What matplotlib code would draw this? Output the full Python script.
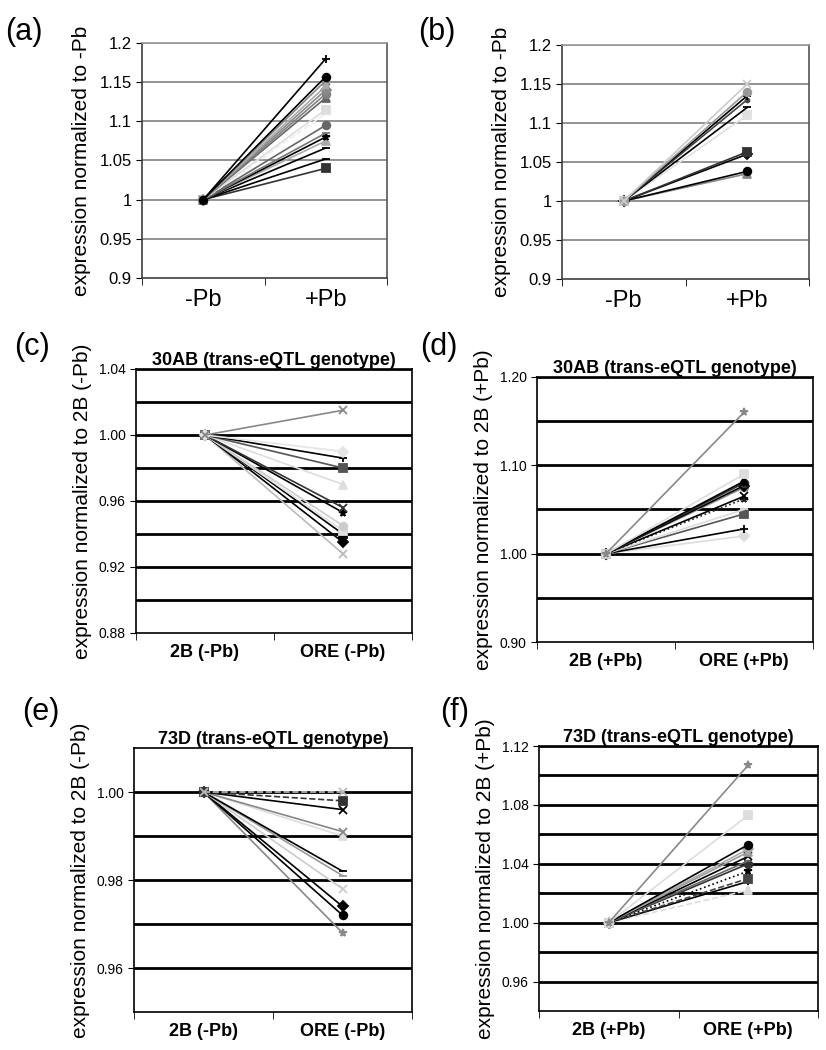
import numpy as np
import matplotlib.pyplot as plt

plt.rcParams['font.family'] = ['Liberation Sans', 'DejaVu Sans']

# data
cats_ab = ['-Pb', '+Pb']
cats_ce = ['2B (-Pb)', 'ORE (-Pb)']
cats_df = ['2B (+Pb)', 'ORE (+Pb)']

a_end = [1.180, 1.157, 1.152, 1.145, 1.140, 1.135, 1.130, 1.115, 1.110,
         1.095, 1.085, 1.080, 1.075, 1.066, 1.052, 1.040]
b_end = [1.150, 1.140, 1.135, 1.130, 1.120, 1.110, 1.063, 1.060, 1.038, 1.035]
c_end = [1.015, 0.990, 0.986, 0.980, 0.970, 0.956, 0.953, 0.945, 0.942,
         0.940, 0.935, 0.928]
d_end = [1.160, 1.090, 1.082, 1.080, 1.077, 1.075, 1.065, 1.062, 1.050,
         1.045, 1.028, 1.020]
e_end = [1.000, 0.998, 0.996, 0.991, 0.990, 0.982, 0.981, 0.978, 0.974,
         0.972, 0.968]
f_end = [1.107, 1.073, 1.053, 1.050, 1.048, 1.045, 1.042, 1.040, 1.035,
         1.030, 1.028, 1.022]

# styles per series (colour, marker, linestyle)
a_sty = [('black', '+', '-'), ('black', 'o', '-'), ('#888888', 'x', '-'),
         ('#aaaaaa', '*', '-'), ('#8a8a8a', 'D', '-'), ('#808080', 'o', '-'),
         ('#666666', '^', '-'), ('#dddddd', 's', '-'), ('#eeeeee', '', '--'),
         ('#666666', 'o', '-'), ('#777777', '_', '-'), ('black', '*', '-'),
         ('#aaaaaa', '^', '-'), ('black', '_', '-'), ('black', '_', '-'),
         ('#333333', 's', '-')]
b_sty = [('#cccccc', 'x', '-'), ('#999999', 'o', '-'), ('black', '+', '-'),
         ('#444444', '.', '-'), ('black', '_', '-'), ('#e0e0e0', 's', '-'),
         ('#333333', 's', '-'), ('black', 'D', '-'), ('black', 'o', '-'),
         ('#888888', '^', '-')]
c_sty = [('#888888', 'x', '-'), ('#e5e5e5', 'D', '-'), ('black', '+', '-'),
         ('#555555', 's', '-'), ('#dddddd', '^', '-'), ('#333333', 'x', '-'),
         ('black', '*', '-'), ('#cccccc', 'o', '-'), ('#e0e0e0', 's', '-'),
         ('black', 's', '-'), ('black', 'D', '-'), ('#bbbbbb', 'x', '-')]
d_sty = [('#888888', '*', '-'), ('#dddddd', 's', '-'), ('black', '^', '-'),
         ('#333333', 'o', '-'), ('black', 'D', '-'), ('#888888', 'o', '-'),
         ('black', 'x', '-'), ('#222222', '*', ':'), ('#dddddd', '_', '-'),
         ('#555555', 's', '-'), ('black', '+', '-'), ('#dddddd', 'D', '-')]
e_sty = [('#bbbbbb', 'x', '--'), ('#333333', 's', '--'), ('black', 'x', '-'),
         ('#888888', 'x', '-'), ('#dddddd', '^', '-'), ('black', '_', '-'),
         ('#999999', '_', '-'), ('#cccccc', 'x', '-'), ('black', 'D', '-'),
         ('black', 'o', '-'), ('#888888', '*', '-')]
f_sty = [('#888888', '*', '-'), ('#dddddd', 's', '-'), ('black', 'o', '-'),
         ('#aaaaaa', 'D', '-'), ('#999999', '^', '-'), ('black', 'x', '-'),
         ('#666666', '_', '-'), ('#333333', 'o', '-'), ('black', '*', ':'),
         ('#444444', 's', '--'), ('black', '|', '-'), ('#dddddd', '^', '--')]

W, H = 826, 1050
fig = plt.figure(figsize=(W / 100, H / 100), dpi=100)


def box(x0, y0, x1, y1):
    return [x0 / W, 1 - y1 / H, (x1 - x0) / W, (y1 - y0) / H]


def draw(ax, ends, styles, cats, ylim, major, minor, fmt, excel_old):
    # drawn last-to-first so the first series sits on top at the start point
    for v, (col, mk, ls) in list(zip(ends, styles))[::-1]:
        ax.plot([0, 1], [1.0, v], color=col, lw=1.2, ls=ls,
                marker=mk if mk else None, ms=5.5, mew=1.3, zorder=3)
    ax.set_xlim(-0.5, 1.5)
    ax.set_ylim(*ylim)
    ax.set_xticks([0, 1])
    ax.set_xticklabels(cats)
    ax.set_xticks([-0.5, 0.5, 1.5], minor=True)
    ax.set_yticks(major)
    ax.set_yticklabels([fmt % t for t in major])
    gl = minor if minor is not None else major
    for g in gl:
        if ylim[0] < g < ylim[1] + 1e-9:
            if excel_old:
                ax.axhline(g, color='#8a8a8a', lw=1.3, zorder=1)
            else:
                ax.axhline(g, color='black', lw=2.0, zorder=1)
    ax.tick_params(axis='x', which='major', length=0, pad=8)
    ax.tick_params(axis='x', which='minor', length=5, direction='out')
    ax.tick_params(axis='y', length=4, direction='out')
    for s in ax.spines.values():
        s.set_color('#404040' if excel_old else 'black')
        s.set_linewidth(1.2)
    if excel_old:
        ax.spines['top'].set_color('#999999')
        ax.spines['right'].set_color('#555555')
        ax.tick_params(axis='y', labelsize=12)
        ax.tick_params(axis='x', labelsize=17)
    else:
        ax.tick_params(axis='y', labelsize=10)
        ax.tick_params(axis='x', labelsize=13)
        for t in ax.get_xticklabels():
            t.set_fontweight('bold')


# (a)
ax = fig.add_axes(box(142, 43, 387, 278))
draw(ax, a_end, a_sty, cats_ab, (0.9, 1.2), np.arange(0.9, 1.2001, 0.05), None, '%g', True)
ax.set_ylabel('expression normalized to -Pb', fontsize=15, labelpad=6)
fig.text(5 / W, 1 - 40 / H, '(a)', fontsize=22)

# (b)
ax = fig.add_axes(box(562, 45, 809, 279))
draw(ax, b_end, b_sty, cats_ab, (0.9, 1.2), np.arange(0.9, 1.2001, 0.05), None, '%g', True)
ax.set_ylabel('expression normalized to -Pb', fontsize=15, labelpad=6)
fig.text(418 / W, 1 - 40 / H, '(b)', fontsize=22)

# (c)
ax = fig.add_axes(box(136, 369, 412, 633))
draw(ax, c_end, c_sty, cats_ce, (0.88, 1.04), np.arange(0.88, 1.0401, 0.04),
     np.arange(0.88, 1.0401, 0.02), '%.2f', False)
ax.set_title('30AB (trans-eQTL genotype)', fontsize=13, fontweight='bold', pad=3)
ax.set_ylabel('expression normalized to 2B (-Pb)', fontsize=15, labelpad=5)
fig.text(14 / W, 1 - 355 / H, '(c)', fontsize=22)

# (d)
ax = fig.add_axes(box(537, 377, 813, 642))
draw(ax, d_end, d_sty, cats_df, (0.90, 1.20), np.arange(0.90, 1.2001, 0.10),
     np.arange(0.90, 1.2001, 0.05), '%.2f', False)
ax.set_title('30AB (trans-eQTL genotype)', fontsize=13, fontweight='bold', pad=3)
ax.set_ylabel('expression normalized to 2B (+Pb)', fontsize=15, labelpad=5)
fig.text(420 / W, 1 - 355 / H, '(d)', fontsize=22)

# (e)
ax = fig.add_axes(box(134, 748, 412, 1012))
draw(ax, e_end, e_sty, cats_ce, (0.95, 1.01), np.arange(0.96, 1.0001, 0.02),
     np.arange(0.96, 1.0001, 0.01), '%.2f', False)
ax.set_title('73D (trans-eQTL genotype)', fontsize=13, fontweight='bold', pad=3)
ax.set_ylabel('expression normalized to 2B (-Pb)', fontsize=15, labelpad=5)
fig.text(22 / W, 1 - 720 / H, '(e)', fontsize=22)

# (f)
ax = fig.add_axes(box(539, 746, 818, 1011))
draw(ax, f_end, f_sty, cats_df, (0.94, 1.12), np.arange(0.96, 1.1201, 0.04),
     np.arange(0.96, 1.1201, 0.02), '%.2f', False)
ax.set_title('73D (trans-eQTL genotype)', fontsize=13, fontweight='bold', pad=3)
ax.set_ylabel('expression normalized to 2B (+Pb)', fontsize=15, labelpad=5)
fig.text(440 / W, 1 - 720 / H, '(f)', fontsize=22)

fig.savefig('out.png', dpi=100)
